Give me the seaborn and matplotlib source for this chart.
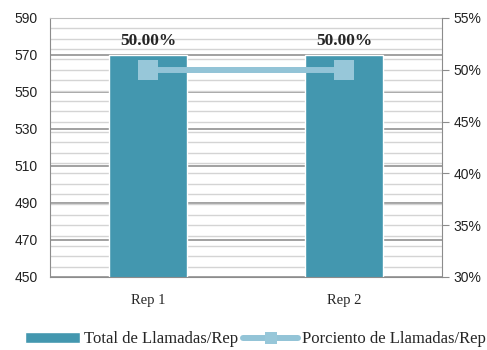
import matplotlib
matplotlib.use("Agg")
import matplotlib.pyplot as plt
import seaborn as sns
import numpy as np
import pandas as pd
from matplotlib.ticker import FixedLocator, MultipleLocator, PercentFormatter

# --- DATOS ---
reps = ["Rep 1", "Rep 2"]
total_llamadas = [570, 570]
porciento = [0.50, 0.50]

BAR_COLOR = "#4397AF"
LINE_COLOR = "#93C4D7"
SERIF = "Liberation Serif"
SANS = "Liberation Sans"

df = pd.DataFrame({"Rep": reps, "Total": total_llamadas, "Pct": porciento})

sns.set_style("white")
plt.rcParams["font.family"] = [SANS, "DejaVu Sans"]

fig = plt.figure(figsize=(4.87, 3.5), dpi=100)
ax1 = fig.add_axes([0.1027, 0.2086, 0.805, 0.74])

sns.barplot(data=df, x="Rep", y="Total", color=BAR_COLOR, width=0.4,
            saturation=1, ax=ax1, label="Total de Llamadas/Rep")
ax1.set_ylim(450, 590)
ax1.set_xlim(-0.5, 1.5)
ax1.yaxis.set_major_locator(FixedLocator(np.arange(450, 591, 20)))
# líneas finas = divisiones de 1% del eje derecho
ax1.yaxis.set_minor_locator(FixedLocator(np.linspace(450, 590, 26)))
ax1.set_axisbelow(True)
ax1.grid(which="minor", axis="y", color="#D4D4D4", lw=1.0)
ax1.grid(which="major", axis="y", color="#9A9A9A", lw=1.3)
ax1.tick_params(axis="y", which="both", length=0, labelsize=10, pad=9, colors="#222222")
ax1.tick_params(axis="x", length=0, pad=12)
for lab in ax1.get_xticklabels():
    lab.set_fontfamily(SERIF)
    lab.set_fontsize(10.5)
ax1.set_xlabel("")
ax1.set_ylabel("")
for side in ["left", "bottom", "top"]:
    ax1.spines[side].set_color("#8C8C8C")
ax1.spines["top"].set_color("#BEBEBE")
ax1.spines["right"].set_visible(False)

ax1.bar_label(ax1.containers[0], labels=[f"{p * 100:.2f}%" for p in porciento],
              padding=4, fontsize=12.5, fontweight="bold", fontfamily=SERIF)

ax2 = ax1.twinx()
sns.lineplot(data=df, x="Rep", y="Pct", color=LINE_COLOR, lw=4.3, marker="s",
             markersize=15, markeredgewidth=0, markerfacecolor="#97C7D9",
             ax=ax2, label="Porciento de Llamadas/Rep")
ax2.set_ylim(0.30, 0.55)
ax2.yaxis.set_major_locator(MultipleLocator(0.05))
ax2.yaxis.set_major_formatter(PercentFormatter(1.0, decimals=0))
ax2.tick_params(axis="y", length=5, width=0.8, color="#8C8C8C", labelsize=10,
                pad=3, labelcolor="#222222")
ax2.set_ylabel("")
ax2.set_xlabel("")
for side in ["left", "bottom", "top"]:
    ax2.spines[side].set_visible(False)
ax2.spines["right"].set_color("#8C8C8C")

h1, l1 = ax1.get_legend_handles_labels()
h2, l2 = ax2.get_legend_handles_labels()
for a in (ax1, ax2):
    if a.get_legend() is not None:
        a.get_legend().remove()

leg = fig.legend(h1 + h2, l1 + l2, loc="lower center", bbox_to_anchor=(0.525, -0.035),
                 ncol=2, frameon=False, handlelength=3.3, handleheight=0.65,
                 columnspacing=0.3, handletextpad=0.25,
                 prop={"family": SERIF, "size": 12})
for lh in leg.legend_handles:
    if hasattr(lh, "set_markersize"):
        lh.set_markersize(8)

fig.savefig("out.png", dpi=100)
